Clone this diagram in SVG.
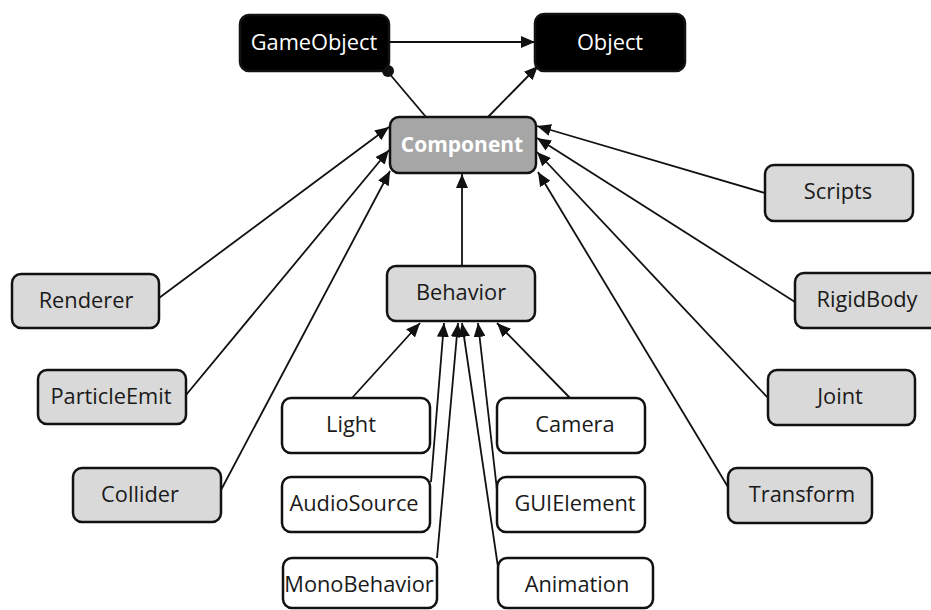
<svg xmlns="http://www.w3.org/2000/svg" width="931" height="610" viewBox="0 0 931 610">
  <style>
    .box { stroke: #111; stroke-width: 2.5; }
    .dark { fill: #000; }
    .core { fill: #a6a6a6; }
    .grey { fill: #d9d9d9; }
    .white { fill: #fff; }
    .lbl { font-family: "Open Sans", "Noto Sans", sans-serif; font-size: 21.8px; fill: #1a1a1a; text-anchor: middle; }
    .lbl-w { fill: #fff; }
    .lbl-b { font-weight: bold; font-size: 21px; }
    .wire { stroke: #111; stroke-width: 1.8; fill: none; }
    .arrow { marker-end: url(#head); }
  </style>
  <defs>
    <marker id="head" markerUnits="userSpaceOnUse" markerWidth="15" markerHeight="12" refX="14" refY="6" orient="auto">
      <path d="M0,0 L14,6 L0,12 z" fill="#111"/>
    </marker>
  </defs>
  <rect width="931" height="610" fill="#fff"/>

  <!-- connectors -->
  <g id="connectors">
    <line class="wire arrow" x1="389" y1="42" x2="535" y2="42"/>
    <line class="wire" x1="426" y1="117" x2="388" y2="72"/>
    <circle cx="388" cy="71" r="6" fill="#111"/>
    <line class="wire arrow" x1="488" y1="117" x2="538" y2="66"/>

    <line class="wire arrow" x1="159" y1="298" x2="389" y2="127"/>
    <line class="wire arrow" x1="186" y1="395" x2="389" y2="150"/>
    <line class="wire arrow" x1="221" y1="490" x2="390" y2="171"/>

    <line class="wire arrow" x1="462" y1="266" x2="462" y2="174"/>

    <line class="wire arrow" x1="765" y1="193" x2="537" y2="126"/>
    <line class="wire arrow" x1="795" y1="302" x2="537" y2="138"/>
    <line class="wire arrow" x1="768" y1="398" x2="537" y2="152"/>
    <line class="wire arrow" x1="728" y1="487" x2="538" y2="172"/>

    <line class="wire arrow" x1="352" y1="398" x2="420" y2="323"/>
    <line class="wire arrow" x1="570" y1="398" x2="497" y2="323"/>
    <line class="wire arrow" x1="431" y1="482" x2="444" y2="323"/>
    <line class="wire arrow" x1="437" y1="558" x2="458" y2="323"/>
    <line class="wire arrow" x1="498" y1="567" x2="462" y2="323"/>
    <line class="wire arrow" x1="497" y1="490" x2="478" y2="323"/>
  </g>

  <!-- nodes -->
  <g id="gameobject">
    <rect class="box dark" x="240" y="15" width="149" height="56" rx="9"/>
    <text class="lbl lbl-w" x="314" y="50">GameObject</text>
  </g>
  <g id="object">
    <rect class="box dark" x="535" y="14" width="150" height="57" rx="9"/>
    <text class="lbl lbl-w" x="610" y="50">Object</text>
  </g>
  <g id="component">
    <rect class="box core" x="390" y="117" width="146" height="56" rx="9"/>
    <text class="lbl lbl-w lbl-b" x="462" y="152">Component</text>
  </g>
  <g id="renderer">
    <rect class="box grey" x="12" y="274" width="147" height="54" rx="9"/>
    <text class="lbl" x="86" y="308">Renderer</text>
  </g>
  <g id="particleemit">
    <rect class="box grey" x="38" y="370" width="148" height="54" rx="9"/>
    <text class="lbl" x="111" y="404">ParticleEmit</text>
  </g>
  <g id="collider">
    <rect class="box grey" x="73" y="468" width="148" height="54" rx="9"/>
    <text class="lbl" x="140" y="502">Collider</text>
  </g>
  <g id="behavior">
    <rect class="box grey" x="387" y="266" width="148" height="55" rx="9"/>
    <text class="lbl" x="461" y="300">Behavior</text>
  </g>
  <g id="light">
    <rect class="box white" x="282" y="398" width="148" height="55" rx="9"/>
    <text class="lbl" x="351" y="432">Light</text>
  </g>
  <g id="camera">
    <rect class="box white" x="497" y="398" width="148" height="55" rx="9"/>
    <text class="lbl" x="575" y="432">Camera</text>
  </g>
  <g id="audiosource">
    <rect class="box white" x="282" y="477" width="148" height="55" rx="9"/>
    <text class="lbl" x="354" y="511">AudioSource</text>
  </g>
  <g id="guielement">
    <rect class="box white" x="497" y="477" width="148" height="55" rx="9"/>
    <text class="lbl" x="575" y="511">GUIElement</text>
  </g>
  <g id="monobehavior">
    <rect class="box white" x="283" y="558" width="154" height="50" rx="9"/>
    <text class="lbl" x="359" y="592">MonoBehavior</text>
  </g>
  <g id="animation">
    <rect class="box white" x="498" y="558" width="155" height="50" rx="9"/>
    <text class="lbl" x="577" y="592">Animation</text>
  </g>
  <g id="scripts">
    <rect class="box grey" x="765" y="165" width="148" height="56" rx="9"/>
    <text class="lbl" x="838" y="199">Scripts</text>
  </g>
  <g id="rigidbody">
    <rect class="box grey" x="795" y="273" width="148" height="55" rx="9"/>
    <text class="lbl" x="867" y="307">RigidBody</text>
  </g>
  <g id="joint">
    <rect class="box grey" x="768" y="370" width="147" height="55" rx="9"/>
    <text class="lbl" x="840" y="404">Joint</text>
  </g>
  <g id="transform">
    <rect class="box grey" x="728" y="468" width="144" height="55" rx="9"/>
    <text class="lbl" x="802" y="502">Transform</text>
  </g>
</svg>
